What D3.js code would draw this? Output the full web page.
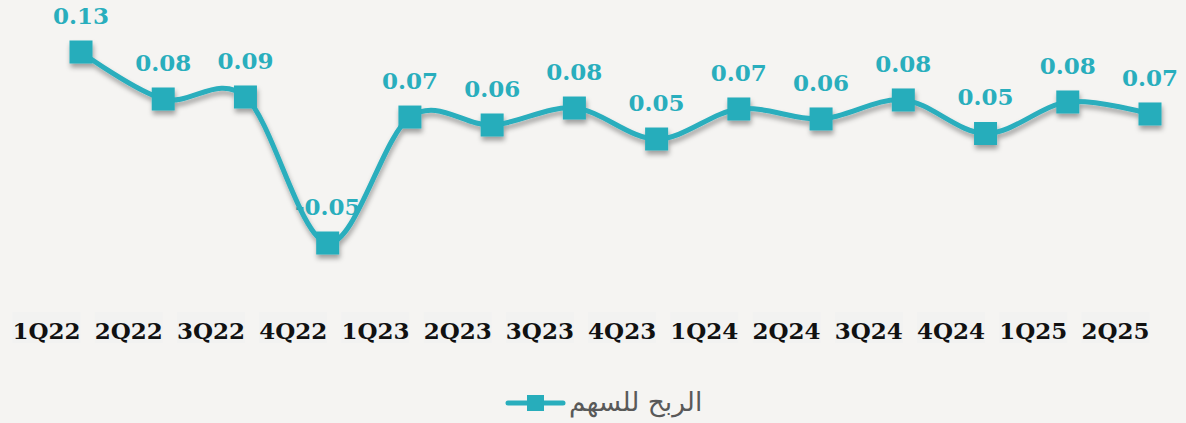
<!DOCTYPE html>
<html>
<head>
<meta charset="utf-8">
<script src="https://cdn.jsdelivr.net/npm/d3@7"></script>
<style>
  html, body { margin: 0; padding: 0; background: #f5f4f2; }
  svg { display: block; }
</style>
</head>
<body>
<div id="chart"></div>
<script>
const quarters = ["1Q22", "2Q22", "3Q22", "4Q22", "1Q23", "2Q23", "3Q23", "4Q23", "1Q24", "2Q24", "3Q24", "4Q24", "1Q25", "2Q25"]
const eps = [0.13, 0.0857, 0.0876, -0.05, 0.0687, 0.0612, 0.0772, 0.048, 0.0763, 0.0669, 0.0848, 0.0532, 0.0829, 0.0716]
const epsLabels = ["0.13", "0.08", "0.09", "-0.05", "0.07", "0.06", "0.08", "0.05", "0.07", "0.06", "0.08", "0.05", "0.08", "0.07"]
const seriesName = "الربح للسهم"

const width = 1186
const height = 423
const teal = "#29aebd"
const labelFont = "'DejaVu Serif', Georgia, serif"

const svg = d3.select("#chart").append("svg")
    .attr("width", width)
    .attr("height", height)

svg.append("rect")
    .attr("width", width)
    .attr("height", height)
    .attr("fill", "#f5f4f2")

const defs = svg.append("defs")
const shadow = defs.append("filter")
    .attr("id", "shadow")
    .attr("x", "-20%").attr("y", "-20%")
    .attr("width", "140%").attr("height", "160%")
shadow.append("feDropShadow")
    .attr("dx", 1)
    .attr("dy", 4)
    .attr("stdDeviation", 2.5)
    .attr("flood-color", "#000")
    .attr("flood-opacity", 0.35)

const x = d3.scalePoint()
    .domain(quarters)
    .range([81, 1150])

const y = d3.scaleLinear()
    .domain([-0.05, 0.13])
    .range([243, 52])

// category labels sit left of their points, each on a faint box
const xAxis = svg.append("g")
    .attr("transform", "translate(0,339)")
    .call(d3.axisBottom(x).tickSize(0).tickPadding(0))
xAxis.select(".domain").remove()
xAxis.selectAll(".tick").insert("rect", "text")
    .attr("x", -35 - 34)
    .attr("y", -27)
    .attr("width", 68)
    .attr("height", 31)
    .attr("fill", "#f2f2f1")
xAxis.selectAll(".tick text")
    .attr("dx", -35)
    .attr("dy", 0)
    .attr("y", 0)
    .attr("fill", "#111")
    .style("font-family", labelFont)
    .style("font-weight", "bold")
    .style("font-size", "23px")

// data labels
svg.append("g")
    .selectAll("text")
    .data(eps)
    .join("text")
    .attr("x", (d, i) => x(quarters[i]))
    .attr("y", d => y(d) - 28)
    .attr("text-anchor", "middle")
    .attr("fill", teal)
    .style("font-family", labelFont)
    .style("font-weight", "bold")
    .style("font-size", "23px")
    .text((d, i) => epsLabels[i])

const series = svg.append("g").attr("filter", "url(#shadow)")

const line = d3.line()
    .x((d, i) => x(quarters[i]))
    .y(d => y(d))
    .curve(d3.curveCardinal.tension(0))

series.append("path")
    .datum(eps)
    .attr("d", line)
    .attr("fill", "none")
    .attr("stroke", teal)
    .attr("stroke-width", 5)

const markerSize = 23
series.selectAll("rect")
    .data(eps)
    .join("rect")
    .attr("x", (d, i) => x(quarters[i]) - markerSize / 2)
    .attr("y", d => y(d) - markerSize / 2)
    .attr("width", markerSize)
    .attr("height", markerSize)
    .attr("fill", "#27adbb")

// legend
const legend = svg.append("g").attr("transform", "translate(508,403)")
legend.append("line")
    .attr("x1", 0).attr("x2", 55)
    .attr("stroke", teal)
    .attr("stroke-width", 5)
    .attr("stroke-linecap", "round")
legend.append("rect")
    .attr("x", 19).attr("y", -8)
    .attr("width", 17).attr("height", 16)
    .attr("fill", "#27adbb")
legend.append("text")
    .attr("x", 61)
    .attr("y", 8)
    .attr("text-anchor", "start")
    .attr("fill", "#595959")
    .style("font-family", "'DejaVu Sans', sans-serif")
    .style("font-size", "26.5px")
    .text(seriesName)
</script>
</body>
</html>
